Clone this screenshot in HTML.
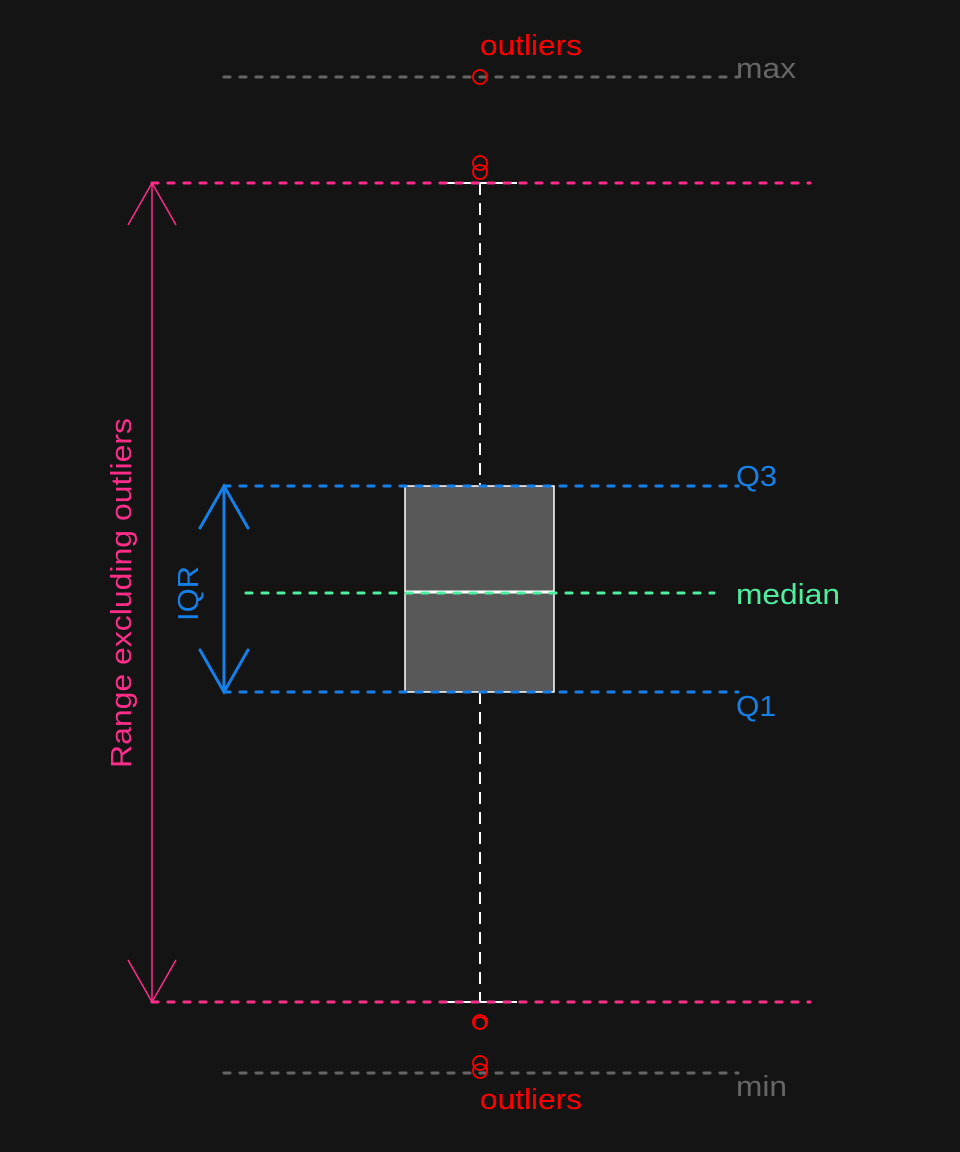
<!DOCTYPE html>
<html><head><style>body{margin:0;background:#141414}svg{display:block}</style></head><body>
<svg width="960" height="1152" xmlns="http://www.w3.org/2000/svg" font-family="Liberation Sans, sans-serif">
<rect width="960" height="1152" fill="#141414"/>
<line x1="480" y1="183" x2="480" y2="486" stroke="#fff" stroke-width="2" stroke-dasharray="12,8"/>
<line x1="480" y1="692" x2="480" y2="1002" stroke="#fff" stroke-width="2" stroke-dasharray="12,8"/>
<line x1="443" y1="183" x2="517" y2="183" stroke="#fff" stroke-width="2"/>
<line x1="443" y1="1002" x2="517" y2="1002" stroke="#fff" stroke-width="2"/>
<rect x="405" y="486" width="149" height="206" fill="#585858" stroke="#fff" stroke-width="1.5"/>
<line x1="405" y1="592" x2="554" y2="592" stroke="#fff" stroke-width="3"/>
<line x1="224" y1="77" x2="738" y2="77" stroke="#666" stroke-width="3" stroke-dasharray="6,10" stroke-linecap="round"/>
<line x1="224" y1="1073" x2="738" y2="1073" stroke="#666" stroke-width="3" stroke-dasharray="6,10" stroke-linecap="round"/>
<line x1="152" y1="183" x2="810" y2="183" stroke="#ff2d8a" stroke-width="3" stroke-dasharray="6,10" stroke-linecap="round"/>
<line x1="152" y1="1002" x2="810" y2="1002" stroke="#ff2d8a" stroke-width="3" stroke-dasharray="6,10" stroke-linecap="round"/>
<line x1="152" y1="183" x2="152" y2="1002" stroke="#ff2d8a" stroke-width="1.5"/>
<polyline points="128,225 152,183 176,225" fill="none" stroke="#ff2d8a" stroke-width="1.5"/>
<polyline points="128,960 152,1002 176,960" fill="none" stroke="#ff2d8a" stroke-width="1.5"/>
<text transform="translate(131,768) rotate(-90)" font-size="29" fill="#ff2d8a" textLength="350" lengthAdjust="spacingAndGlyphs">Range excluding outliers</text>
<line x1="224" y1="486" x2="738" y2="486" stroke="#1580e8" stroke-width="3" stroke-dasharray="6,10" stroke-linecap="round"/>
<line x1="224" y1="692" x2="738" y2="692" stroke="#1580e8" stroke-width="3" stroke-dasharray="6,10" stroke-linecap="round"/>
<line x1="224" y1="486" x2="224" y2="692" stroke="#1580e8" stroke-width="3"/>
<polyline points="200,528 224,486 248,528" fill="none" stroke="#1580e8" stroke-width="3" stroke-linecap="round"/>
<polyline points="200,650 224,692 248,650" fill="none" stroke="#1580e8" stroke-width="3" stroke-linecap="round"/>
<text transform="translate(198,621) rotate(-90)" font-size="29" fill="#1580e8" textLength="55" lengthAdjust="spacingAndGlyphs">IQR</text>
<line x1="246" y1="593" x2="714" y2="593" stroke="#4ef0a0" stroke-width="3" stroke-dasharray="6,10" stroke-linecap="round"/>
<g fill="none" stroke="#f00" stroke-width="1.8">
<circle cx="480" cy="77" r="7"/>
<circle cx="480" cy="163" r="7"/><circle cx="480" cy="172" r="7"/>
<circle cx="480" cy="1022" r="7"/><circle cx="480" cy="1023" r="6"/>
<circle cx="480" cy="1063" r="7"/><circle cx="480" cy="1071" r="7"/>
</g>
<g font-size="29" lengthAdjust="spacingAndGlyphs">
<text x="480" y="55" fill="#f00" textLength="102" lengthAdjust="spacingAndGlyphs">outliers</text>
<text x="480" y="1109" fill="#f00" textLength="102" lengthAdjust="spacingAndGlyphs">outliers</text>
<text x="736" y="78" fill="#666" textLength="60" lengthAdjust="spacingAndGlyphs">max</text>
<text x="736" y="1096" fill="#666" textLength="51" lengthAdjust="spacingAndGlyphs">min</text>
<text x="736" y="486" fill="#1580e8" textLength="41" lengthAdjust="spacingAndGlyphs">Q3</text>
<text x="736" y="716" fill="#1580e8" textLength="40" lengthAdjust="spacingAndGlyphs">Q1</text>
<text x="736" y="604" fill="#4ef0a0" textLength="104" lengthAdjust="spacingAndGlyphs">median</text>
</g>
</svg>
</body></html>
